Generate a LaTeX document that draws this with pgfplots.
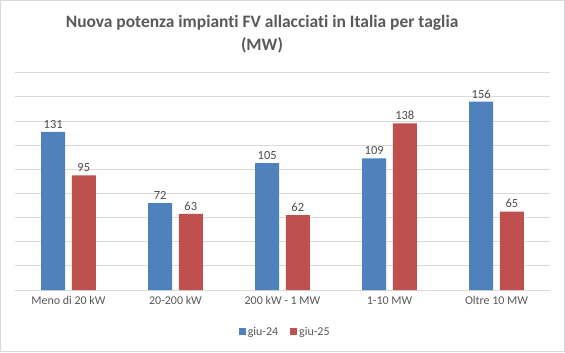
\documentclass[border=0pt]{standalone}
\usepackage{pgfplots}
\pgfplotsset{compat=1.18}
\usepackage{fontspec}
\setmainfont{Carlito}[Ligatures={NoCommon}]
\definecolor{xblue}{HTML}{4F81BD}
\definecolor{xred}{HTML}{C0504D}
\definecolor{txt}{HTML}{595959}
\definecolor{grid}{HTML}{D9D9D9}
\begin{document}
\begin{tikzpicture}[x=1bp,y=1bp]
\useasboundingbox (0,0) rectangle (565,352);
\fill[white] (0,0) rectangle (565,352);
\draw[color=grid, line width=1.2bp] (0.6,0.6) rectangle (564.4,351.4);
\node[font=\bfseries\fontsize{17.5}{23}\selectfont, text=txt, align=center] at (262,318) {Nuova potenza impianti FV allacciati in Italia per taglia\\(MW)};
\begin{axis}[
  at={(15bp,62bp)}, anchor=south west,
  scale only axis, width=535bp, height=217.3bp,
  xmin=-0.5, xmax=4.5, ymin=0, ymax=180,
  ytick={0,20,...,180}, yticklabels={},
  ymajorgrids, grid style={color=grid, line width=0.8bp},
  major tick length=0pt,
  xtick=data,
  xticklabels={Meno di 20 kW,20-200 kW,200 kW - 1 MW,1-10 MW,Oltre 10 MW},
  x tick label style={font=\fontsize{12}{14}\selectfont, text=txt, yshift=-3bp},
  axis x line*=bottom, axis y line*=left,
  x axis line style={color=grid, line width=0.8bp, -},
  y axis line style={draw=none},
  ybar, bar width=0.224,
  nodes near coords,
  every node near coord/.append style={font=\fontsize{12.5}{14}\selectfont, text=txt!85!black},
  /pgf/number format/assume math mode=true,
  legend style={at={(0.505,-0.193)}, anchor=center, draw=none, legend columns=2, font=\fontsize{12}{14}\selectfont, text=txt, /tikz/every even column/.append style={column sep=10bp}},
  legend image code/.code={\fill[#1] (0bp,-3.5bp) rectangle (7bp,3.5bp);},
]
\addplot[fill=xblue, draw=none, bar shift=-0.143] coordinates {(0,131) (1,72) (2,105) (3,109) (4,156)};
\addplot[fill=xred, draw=none, bar shift=0.143] coordinates {(0,95) (1,63) (2,62) (3,138) (4,65)};
\legend{giu-24,giu-25}
\end{axis}
\end{tikzpicture}
\end{document}
